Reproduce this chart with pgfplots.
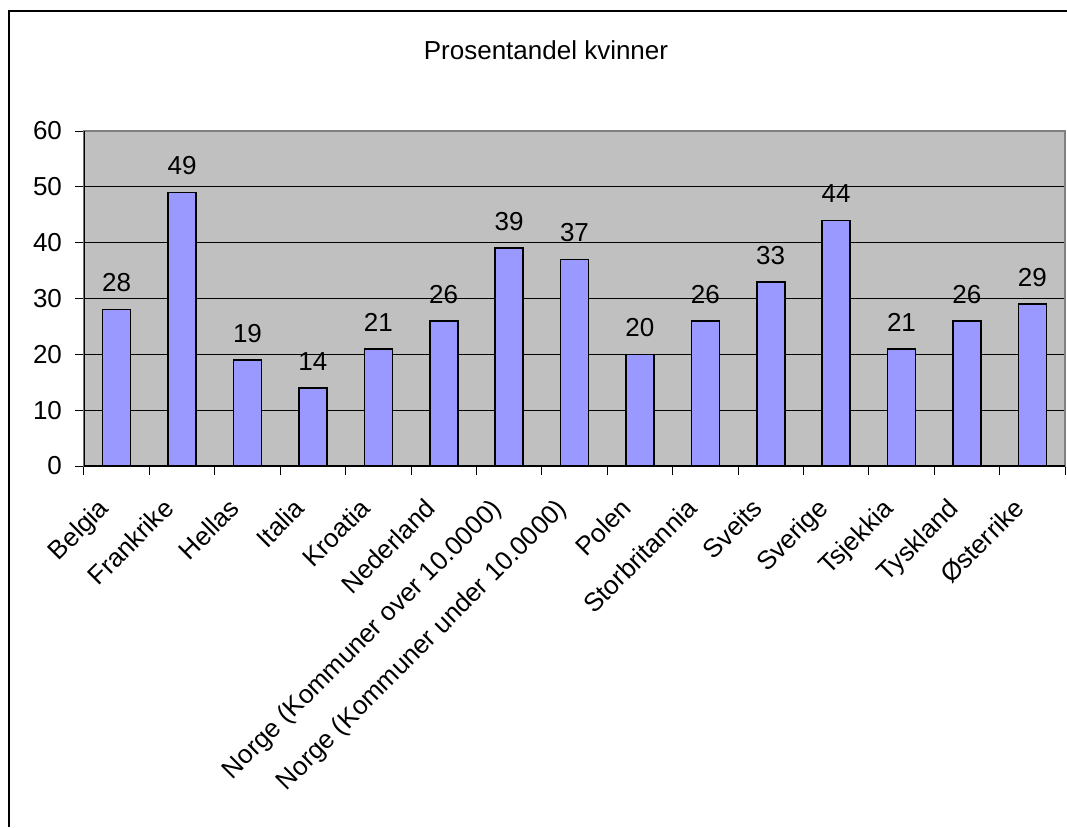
\documentclass[border=0pt]{standalone}
\usepackage{pgfplots}
\pgfplotsset{compat=1.18}
\usepackage{fontspec}
\setmainfont{Liberation Sans}
\definecolor{plotbg}{HTML}{C0C0C0}
\definecolor{barfill}{HTML}{9999FF}
\definecolor{framegray}{HTML}{808080}

\begin{document}
\begin{tikzpicture}
\draw[line width=1.1pt] (4.5pt,0pt) -- (4.5pt,408pt) -- (533.5pt,408pt);
\node[anchor=base, font=\fontsize{13}{15}\selectfont] at (273pt,384pt) {Prosentandel kvinner};
\begin{axis}[
  at={(42pt,180.5pt)}, anchor=south west,
  scale only axis, width=490.5pt, height=167.5pt,
  ybar, bar width=14pt,
  xmin=-0.5, xmax=14.5, ymin=0, ymax=60,
  ytick distance=10,
  xtick={0,...,14},
  xticklabels={Belgia,Frankrike,Hellas,Italia,Kroatia,Nederland,
    Norge (Kommuner over 10.0000),Norge (Kommuner under 10.0000),
    Polen,Storbritannia,Sveits,Sverige,Tsjekkia,Tyskland,Østerrike},
  minor xtick={-0.5,0.5,...,14.5},
  major x tick style={draw=none},
  tick align=outside,
  major tick length=4.5pt, minor tick length=4.5pt,
  tick style={black, line width=0.5pt},
  xtick pos=bottom, ytick pos=left,
  ymajorgrids, grid style={black, line width=0.5pt},
  axis line style={framegray, line width=0.9pt},
  axis background/.style={fill=plotbg},
  /pgf/number format/assume math mode=true,
  ticklabel style={font=\fontsize{13}{15}\selectfont},
  xticklabel style={xshift=-10pt, yshift=-6pt, rotate=45, anchor=north east},
  yticklabel style={xshift=-3pt},
  nodes near coords,
  nodes near coords style={font=\fontsize{13}{15}\selectfont, yshift=5pt, black},
]
\addplot[fill=barfill, draw=black, line width=0.8pt] coordinates {
  (0,28) (1,49) (2,19) (3,14) (4,21) (5,26) (6,39) (7,37)
  (8,20) (9,26) (10,33) (11,44) (12,21) (13,26) (14,29)};
\draw[black, line width=0.9pt] (rel axis cs:0,1) -- (rel axis cs:0,0) -- (rel axis cs:1,0);
\end{axis}
\pgfresetboundingbox
\path[use as bounding box] (0,0) rectangle (533.5pt,413.5pt);
\end{tikzpicture}
\end{document}
